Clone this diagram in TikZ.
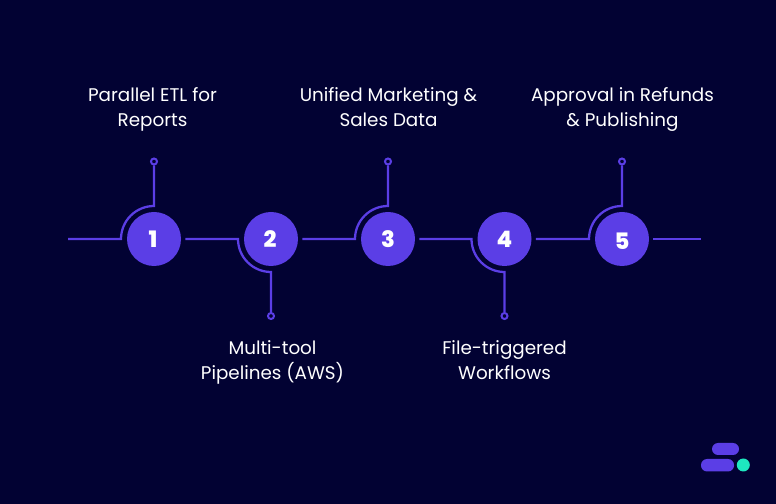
\documentclass[tikz,border=0pt]{standalone}
\usepackage{fontspec}
\setmainfont{Poppins}
\newfontfamily\numfont{Poppins ExtraBold}
\usetikzlibrary{positioning}
\definecolor{bgnavy}{HTML}{020233}
\definecolor{stepviolet}{HTML}{5B3EE6}
\definecolor{logoteal}{HTML}{1EE8C0}
\tikzset{
  stepnum/.style={circle, fill=stepviolet, text=white, inner sep=0pt, minimum size=40.5pt, font=\numfont\fontsize{17}{17}\selectfont},
  wire/.style={draw=stepviolet, line width=1.7pt},
  enddot/.style={circle, draw=stepviolet, line width=1.5pt, inner sep=0pt, minimum size=4.5pt},
  steplabel/.style={text=white, align=center, font=\fontsize{13.75}{18.75}\selectfont}
}

\begin{document}
\begin{tikzpicture}[x=0.75pt, y=0.75pt]
  \fill[bgnavy] (0,0) rectangle (776,504);
  \useasboundingbox (0,0) rectangle (776,504);

  % numbered circles
  \node[stepnum] (num1) at (154,265) {1\kern1.5pt};
  \node[stepnum] (num2) at (271,265) {2\kern1.5pt};
  \node[stepnum] (num3) at (388,265) {3};
  \node[stepnum] (num4) at (504.5,265) {4};
  \node[stepnum] (num5) at (622,265) {\raisebox{-1.5pt}[\height][\depth]{5}};

  % end dots
  \node[enddot] (dot1) at (154,342.5) {};
  \node[enddot] (dot2) at (271,188) {};
  \node[enddot] (dot3) at (388,342.5) {};
  \node[enddot] (dot4) at (504.5,188) {};
  \node[enddot] (dot5) at (622,342.5) {};

  % free ends
  \coordinate (start) at (68,265);
  \coordinate (stop) at (701,265);
  \coordinate[left=24.75pt of num1.center] (bend1);
  \coordinate[left=24.75pt of num2.center] (bend2);
  \coordinate[left=24.75pt of num3.center] (bend3);
  \coordinate[left=24.75pt of num4.center] (bend4);
  \coordinate[left=24.75pt of num5.center] (bend5);

  % wires
  \draw[wire] (start) -- (bend1) arc[start angle=180, end angle=90, radius=24.75pt] -- (dot1);
  \draw[wire] ([xshift=3pt]num1.east) -- (bend2) arc[start angle=180, end angle=270, radius=24.75pt] -- (dot2);
  \draw[wire] ([xshift=3pt]num2.east) -- (bend3) arc[start angle=180, end angle=90, radius=24.75pt] -- (dot3);
  \draw[wire] ([xshift=3pt]num3.east) -- (bend4) arc[start angle=180, end angle=270, radius=24.75pt] -- (dot4);
  \draw[wire] ([xshift=3pt]num4.east) -- (bend5) arc[start angle=180, end angle=90, radius=24.75pt] -- (dot5);
  \draw[wire] ([xshift=3pt]num5.east) -- (stop);

  % labels
  \node[steplabel] (lab1) at (152.5,395) {Parallel ETL for\\Reports};
  \node[steplabel] (lab2) at (272.5,142) {Multi-tool\\Pipelines (AWS)};
  \node[steplabel] (lab3) at (388.5,396.5) {Unified Marketing \&\\Sales Data};
  \node[steplabel] (lab4) at (504.5,144) {File-triggered\\Workflows};
  \node[steplabel] (lab5) at (622.5,395) {Approval in Refunds\\\& Publishing};

  % logo
  \fill[stepviolet, rounded corners=4.5pt] (712,49) rectangle (739,61);
  \fill[stepviolet, rounded corners=4.5pt] (701,32.5) rectangle (734,45);
  \fill[logoteal] (743.3,39) circle[radius=6.5];
\end{tikzpicture}
\end{document}
